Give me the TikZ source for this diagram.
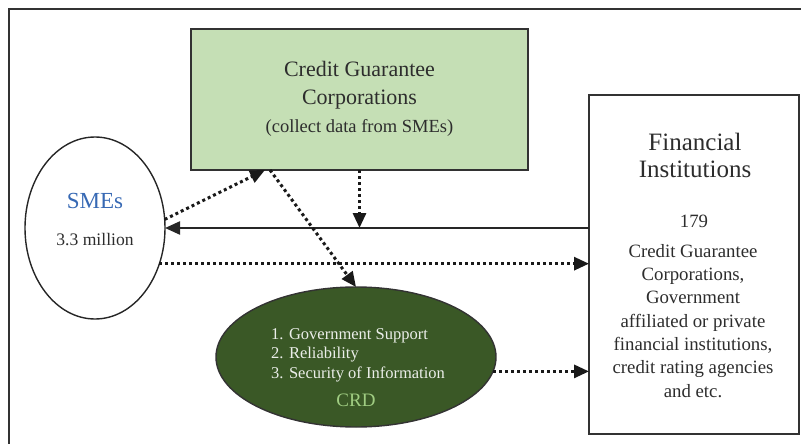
\documentclass[tikz,border=0pt]{standalone}
\usepackage{fontspec}
\setmainfont{Liberation Serif}
\usetikzlibrary{arrows.meta,shapes.geometric}
\definecolor{txt}{RGB}{45,45,45}
\definecolor{cgcfill}{RGB}{197,223,181}
\definecolor{crdfill}{RGB}{58,88,38}
\definecolor{crdlabel}{RGB}{160,205,130}
\definecolor{smeblue}{RGB}{55,105,180}
\definecolor{edge}{RGB}{50,50,50}
\tikzset{
  tip/.style={-{Triangle[length=15pt,width=13pt]}},
  dotline/.style={tip, line width=3pt, dash pattern=on 3pt off 3pt, draw=black!90},
  solidline/.style={tip, line width=2.2pt, draw=black!85},
  lbl/.style={inner sep=0pt, anchor=base, text=txt}
}
\begin{document}
\begin{tikzpicture}[x=1pt,y=-1pt]
\useasboundingbox (0,0) rectangle (801,444);
% frame
\draw[line width=2pt, draw=black!80] (8.5,444) -- (8.5,9.5) -- (801,9.5);
% credit guarantee corporations
\node[draw=edge, line width=2pt, fill=cgcfill, minimum width=337pt, minimum height=141pt, inner sep=0pt, outer sep=0pt] (cgc) at (359.5,99.5) {};
\node[lbl, font=\fontsize{22}{26}\selectfont] (cgc1) at (359.5,77) {Credit Guarantee};
\node[lbl, font=\fontsize{22}{26}\selectfont] (cgc2) at (359.5,104) {Corporations};
\node[lbl, font=\fontsize{18.5}{22}\selectfont] (cgc3) at (359.5,132) {(collect data from SMEs)};
% financial institutions
\node[draw=edge, line width=1.8pt, minimum width=210pt, minimum height=339pt, inner sep=0pt, outer sep=0pt] (fi) at (694,264.5) {};
\node[lbl, font=\fontsize{25}{29}\selectfont] (fi1) at (695,150) {Financial};
\node[lbl, font=\fontsize{25}{29}\selectfont] (fi2) at (695,177) {Institutions};
\node[lbl, font=\fontsize{18.8}{22}\selectfont] (fi3) at (694,227) {179};
\node[lbl, font=\fontsize{18.8}{22}\selectfont] (fi4) at (693,257) {Credit Guarantee};
\node[lbl, font=\fontsize{18.8}{22}\selectfont] (fi5) at (693,280.3) {Corporations,};
\node[lbl, font=\fontsize{18.8}{22}\selectfont] (fi6) at (693,303.7) {Government};
\node[lbl, font=\fontsize{18.8}{22}\selectfont] (fi7) at (693,327) {affiliated or private};
\node[lbl, font=\fontsize{18.8}{22}\selectfont] (fi8) at (693,350.3) {financial institutions,};
\node[lbl, font=\fontsize{18.8}{22}\selectfont] (fi9) at (693,373.7) {credit rating agencies};
\node[lbl, font=\fontsize{18.8}{22}\selectfont] (fi10) at (693,397) {and etc.};
% SMEs
\node[ellipse, draw=black!85, line width=1.4pt, minimum width=140pt, minimum height=182pt, inner sep=0pt, outer sep=0pt] (smes) at (95,228) {};
\node[lbl, text=smeblue, font=\fontsize{23}{27}\selectfont] (smes1) at (95,208) {SMEs};
\node[lbl, font=\fontsize{17.6}{21}\selectfont] (smes2) at (95,245) {3.3 million};
% CRD
\node[ellipse, draw=black!80, line width=1.4pt, fill=crdfill, minimum width=280pt, minimum height=140pt, inner sep=0pt, outer sep=0pt] (crd) at (356,357) {};
\node[inner sep=0pt, anchor=base west, text=white!90!crdfill, font=\fontsize{16.5}{19.5}\selectfont] (crd1) at (271,339) {1. Government Support};
\node[inner sep=0pt, anchor=base west, text=white!90!crdfill, font=\fontsize{16.5}{19.5}\selectfont] (crd2) at (271,358.5) {2. Reliability};
\node[inner sep=0pt, anchor=base west, text=white!90!crdfill, font=\fontsize{16.5}{19.5}\selectfont] (crd3) at (271,378) {3. Security of Information};
\node[lbl, text=crdlabel, font=\fontsize{19}{22}\selectfont] (crd4) at (356,406) {CRD};
% connectors
\coordinate (cgcL) at ([xshift=74pt]cgc.south west);
\coordinate (cgcR) at ([xshift=79pt]cgc.south west);
\coordinate (mid) at (cgc.south |- smes.east);
\draw[solidline] (fi.west |- smes.east) -- (smes.east);
\draw[dotline] (cgc.south) -- (mid);
\draw[dotline] (smes.7) -- (cgcL);
\draw[dotline] (cgcR) -- (crd.north);
\draw[dotline] (smes.-29) -- (fi.west |- smes.-29);
\draw[dotline] (crd.-6) -- (fi.west |- crd.-6);
\end{tikzpicture}
\end{document}
